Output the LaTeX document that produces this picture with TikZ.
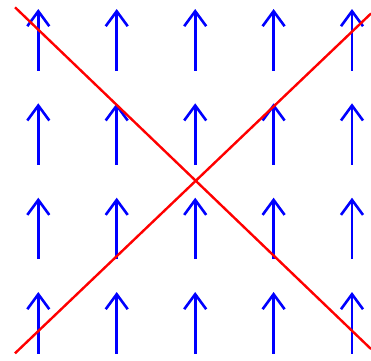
\documentclass[tikz,border=0pt]{standalone}
\usetikzlibrary{arrows.meta}
\begin{document}
\begin{tikzpicture}[x=1pt,y=-1pt,
  vec/.style={draw={rgb,255:red,0;green,0;blue,255},line width=2.6pt,-{Straight Barb[length=15pt,width=22pt,line width=2.6pt]}},
  redline/.style={draw={rgb,255:red,255;green,0;blue,0},line width=2.4pt}]
\useasboundingbox (0,0) rectangle (371,360);
\foreach \x in {38.3,116.7,195.2,273.6,352} {
  \foreach \t in {9,103.3,197.7,292} {
    \draw[vec] (\x,\t+61.5) -- (\x,\t);
  }
}
\coordinate (a1) at (15,7.3);
\coordinate (a2) at (371,349);
\coordinate (b1) at (15,353.3);
\coordinate (b2) at (371,13.5);
\draw[redline] (a1) -- (a2);
\draw[redline] (b1) -- (b2);
\end{tikzpicture}
\end{document}
